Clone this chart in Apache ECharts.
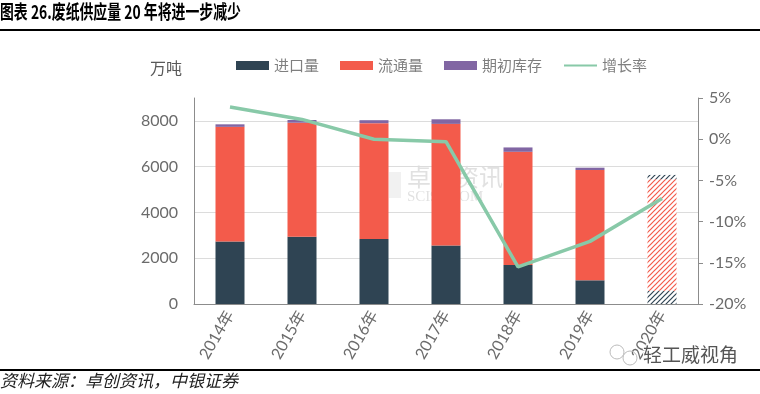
<!DOCTYPE html>
<html>
<head>
<meta charset="utf-8">
<script src="https://cdn.jsdelivr.net/npm/echarts@6/dist/echarts.min.js"></script>
<style>
html,body{margin:0;padding:0;background:#fff;}
#c{width:760px;height:394px;}
</style>
</head>
<body>
<div id="c"></div>
<script>
var categories = ['2014年','2015年','2016年','2017年','2018年','2019年','2020年'];
var importVol = [2730, 2940, 2840, 2560, 1700, 1035, 580];
var circulation = [5010, 4980, 5060, 5310, 4950, 4820, 4870];
var inventory = [110, 120, 130, 200, 190, 100, 190];
var growth = [3.9, 2.4, 0.0, -0.3, -15.5, -12.4, -7.2];
var leftTicks = [0, 9000, 2000];
var rightTicks = [-20, 5, 5];

var C_DARK = '#2f4453', C_RED = '#f35b4b', C_PURPLE = '#8166a3', C_GREEN = '#88c9a8';

function hatch(color){
  var cv = document.createElement('canvas');
  cv.width = 5; cv.height = 5;
  var g = cv.getContext('2d');
  g.fillStyle = '#fff'; g.fillRect(0,0,5,5);
  g.strokeStyle = color; g.lineWidth = 1.2;
  g.beginPath();
  g.moveTo(-1,6); g.lineTo(6,-1);
  g.moveTo(-1,1); g.lineTo(1,-1);
  g.moveTo(4,6); g.lineTo(6,4);
  g.stroke();
  return {image: cv, repeat: 'repeat'};
}

function withLast(arr, color){
  return arr.map(function(v,i){
    if(i === arr.length-1) return {value: v, itemStyle: {color: hatch(color)}};
    return v;
  });
}

var chart = echarts.init(document.getElementById('c'));
var font = 'Lato, "Noto Sans CJK SC", sans-serif';
chart.setOption({
  animation: false,
  textStyle: {fontFamily: font},
  grid: {left: 194, right: 62, top: 98, bottom: 90, containLabel: false},
  legend: {
    left: 236, top: 58, padding: 0,
    itemWidth: 33, itemHeight: 9, itemGap: 21,
    textStyle: {fontSize: 15, color: '#7f7f7f', fontFamily: '"Noto Sans CJK SC", sans-serif'},
    data: [
      {name: '进口量', icon: 'rect'},
      {name: '流通量', icon: 'rect'},
      {name: '期初库存', icon: 'rect'},
      {name: '增长率', itemStyle: {opacity: 0}}
    ]
  },
  xAxis: {
    type: 'category',
    data: categories,
    axisLine: {lineStyle: {color: '#8c8c8c', width: 1}},
    axisTick: {alignWithLabel: true, length: 5, lineStyle: {color: '#8c8c8c'}},
    axisLabel: {rotate: 60, fontSize: 16, color: '#6b6b6b', margin: 8, fontFamily: font}
  },
  yAxis: [
    {
      type: 'value', min: leftTicks[0], max: leftTicks[1], interval: leftTicks[2],
      axisLine: {show: true, lineStyle: {color: '#8c8c8c'}},
      axisTick: {show: false},
      axisLabel: {fontSize: 16, color: '#6b6b6b', margin: 16, showMaxLabel: false, fontFamily: font,
        formatter: function(v){ return String(v); }},
      splitLine: {show: true, lineStyle: {color: ['#dcdcdc','#dcdcdc','#dcdcdc','#dcdcdc','#dcdcdc','rgba(0,0,0,0)'], width: 1}}
    },
    {
      type: 'value', min: rightTicks[0], max: rightTicks[1], interval: rightTicks[2],
      position: 'right',
      axisLine: {show: true, lineStyle: {color: '#8c8c8c'}},
      axisTick: {show: true, length: 5, lineStyle: {color: '#8c8c8c'}},
      axisLabel: {fontSize: 16, color: '#6b6b6b', margin: 11, formatter: '{value}%', fontFamily: font},
      splitLine: {show: false}
    }
  ],
  series: [
    {name: '进口量', type: 'bar', stack: 's', barWidth: 29, data: withLast(importVol, C_DARK), itemStyle: {color: C_DARK}},
    {name: '流通量', type: 'bar', stack: 's', barWidth: 29, data: withLast(circulation, C_RED), itemStyle: {color: C_RED}},
    {name: '期初库存', type: 'bar', stack: 's', barWidth: 29, data: withLast(inventory, C_DARK), itemStyle: {color: C_PURPLE}},
    {name: '增长率', type: 'line', yAxisIndex: 1, data: growth, symbol: 'none', z: 5,
      lineStyle: {color: C_GREEN, width: 3.5}, itemStyle: {color: C_GREEN}}
  ],
  graphic: [
    {type: 'text', left: 0, top: 2, z: 10,
      style: {text: '图表 26.废纸供应量 20 年将进一步减少', font: 'bold 19px "Noto Sans CJK SC", sans-serif', fill: '#000'},
      scaleX: 0.73},
    {type: 'rect', shape: {x: 0, y: 29, width: 760, height: 2}, style: {fill: '#000'}, z: 10},
    {type: 'text', left: 150, top: 60, style: {text: '万吨', font: '16px "Noto Sans CJK SC", sans-serif', fill: '#595959'}},
    {type: 'text', left: 407, top: 165, z: 0,
      style: {text: '卓创资讯', font: '24px "Noto Sans CJK SC", sans-serif', fill: 'rgba(180,180,180,0.4)'}},
    {type: 'text', left: 407, top: 190, z: 0,
      style: {text: 'SCI99.COM', font: '15px "Liberation Serif", serif', fill: 'rgba(180,180,180,0.4)'}},
    {type: 'rect', shape: {x: 389, y: 172, width: 12, height: 26}, style: {fill: 'rgba(200,200,200,0.25)'}, z: 0},
    {type: 'rect', shape: {x: 0, y: 369, width: 760, height: 2}, style: {fill: '#000'}, z: 10},
    {type: 'text', left: 0, top: 372,
      style: {text: '资料来源：卓创资讯，中银证券', font: 'italic 17px "Noto Sans CJK SC", sans-serif', fill: '#222'}},
    {type: 'circle', shape: {cx: 617, cy: 352, r: 7}, style: {fill: 'none', stroke: '#bbb', lineWidth: 1}, z: 10},
    {type: 'circle', shape: {cx: 630, cy: 358, r: 7}, style: {fill: 'none', stroke: '#bbb', lineWidth: 1}, z: 10},
    {type: 'text', left: 642, top: 344, z: 10,
      style: {text: '轻工威视角', font: '19px "Noto Sans CJK SC", sans-serif', fill: '#555', stroke: '#fff', lineWidth: 2}}
  ]
});
</script>
</body>
</html>
